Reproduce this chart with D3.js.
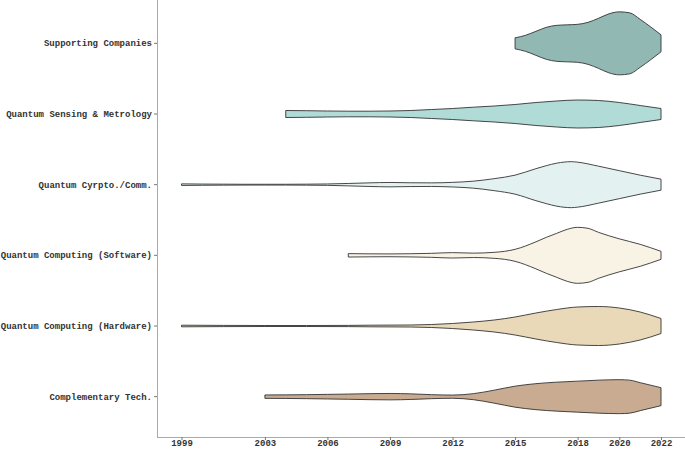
<!DOCTYPE html>
<html><head><meta charset="utf-8">
<script src="https://cdn.jsdelivr.net/npm/d3@7"></script>
<style>body{margin:0;background:#fff}svg{display:block}</style>
</head><body>
<svg id="c" width="685" height="449"></svg>
<script>
const categories = ["Supporting Companies","Quantum Sensing & Metrology","Quantum Cyrpto./Comm.","Quantum Computing (Software)","Quantum Computing (Hardware)","Complementary Tech."];
const colors = ["#92b8b3","#b0dbd6","#e3f2f1","#f9f3e5","#ead9b9","#c8ab90"];
const xTicks = [1999,2003,2006,2009,2012,2015,2018,2020,2022];

// density profiles: [year, half-width density]
const supporting = [[2015,5.5],[2015.5,8],[2016,12],[2016.5,16],[2017,18],[2017.5,18.5],[2018,19],[2018.5,21],[2019,25],[2019.5,29.5],[2020,31.5],[2020.5,30.5],[2021,24],[2021.5,16.5],[2022,8.5]];
const sensing = [[2004,3.5],[2005,3.3],[2006,3.0],[2007,2.8],[2008,2.8],[2009,3.0],[2010,3.5],[2011,4.5],[2012,5.5],[2013,6.8],[2014,8],[2015,9.5],[2016,11.5],[2017,13],[2018,14],[2019,13.5],[2020,11.5],[2021,8.5],[2022,5.5]];
const crypto = [[1999,0.8],[2000,0.6],[2001,0.5],[2002,0.4],[2003,0.4],[2004,0.4],[2005,0.5],[2006,0.7],[2007,1.2],[2008,1.8],[2009,2.2],[2010,1.9],[2011,1.8],[2012,2.3],[2013,3.5],[2014,6],[2015,9.5],[2016,16],[2016.5,19],[2017,21.5],[2017.7,23],[2018,22.5],[2019,18.5],[2020,14],[2021,9.5],[2022,5.5]];
const software = [[2007,1.7],[2008,1.5],[2009,1.4],[2010,1.6],[2011,2.0],[2012,2.7],[2013,2.2],[2014,3.0],[2014.5,4],[2015,6],[2016,13.5],[2016.5,18],[2017,22],[2017.5,26],[2018,28],[2018.5,27],[2019,23],[2020,16.5],[2021,11],[2022,4]];
const hardware = [[1999,0.8],[2001,0.6],[2003,0.5],[2005,0.5],[2007,0.6],[2008,0.8],[2009,0.9],[2010,1.0],[2011,1.5],[2012,2.5],[2013,4],[2014,6],[2015,9],[2016,13],[2017,16.5],[2018,19],[2019,19.5],[2020,18],[2021,14],[2022,7.5]];
const complementary = [[2003,1.7],[2004,1.8],[2005,2],[2006,2.3],[2007,2.6],[2008,3],[2009,3.2],[2010,2.8],[2011,2.0],[2012,1.6],[2013,3],[2014,6.5],[2015,10.5],[2016,13],[2017,14.5],[2018,15.5],[2019,16.5],[2020,17],[2020.5,16.5],[2021,14],[2022,9]];
const profiles = [supporting, sensing, crypto, software, hardware, complementary];

const svg = d3.select("#c");
const W = 685, H = 449;
const left = 157, bottom = 437;
const x = d3.scaleLinear().domain([1999,2022]).range([181.5,661]);
const y = d3.scaleBand().domain(categories).range([8,432]).padding(0);
const w = d3.scaleLinear().domain([0,35]).range([0,35]);

const font = "'Liberation Mono','Courier New',monospace";

categories.forEach((cat,i)=>{
  const yc = y(cat) + y.bandwidth()/2;
  const area = d3.area()
    .x(d=>x(d[0]))
    .y0(d=>yc - w(d[1]))
    .y1(d=>yc + w(d[1]))
    .curve(d3.curveMonotoneX);
  svg.append("path").datum(profiles[i])
    .attr("d", area)
    .attr("fill", colors[i])
    .attr("stroke", "#333")
    .attr("stroke-width", 0.9);
});

// axes
const gy = svg.append("g").attr("transform",`translate(${left},0)`)
  .call(d3.axisLeft(y).tickSize(3).tickPadding(2));
gy.select(".domain").attr("d",`M0.5,0V${bottom}`).attr("stroke","#aaa");
gy.selectAll(".tick line").attr("stroke","#777");
gy.selectAll("text").attr("font-family",font).attr("font-weight","bold").attr("font-size",9).attr("fill","#333");

const gx = svg.append("g").attr("transform",`translate(0,${bottom})`)
  .call(d3.axisBottom(x).tickValues(xTicks).tickFormat(d3.format("d")).tickSize(3).tickPadding(0));
gx.select(".domain").attr("d",`M${left},0.5H${W}`).attr("stroke","#aaa");
gx.selectAll(".tick line").attr("stroke","#777");
gx.selectAll("text").attr("font-family",font).attr("font-weight","bold").attr("font-size",9).attr("fill","#333");
</script>
</body></html>
